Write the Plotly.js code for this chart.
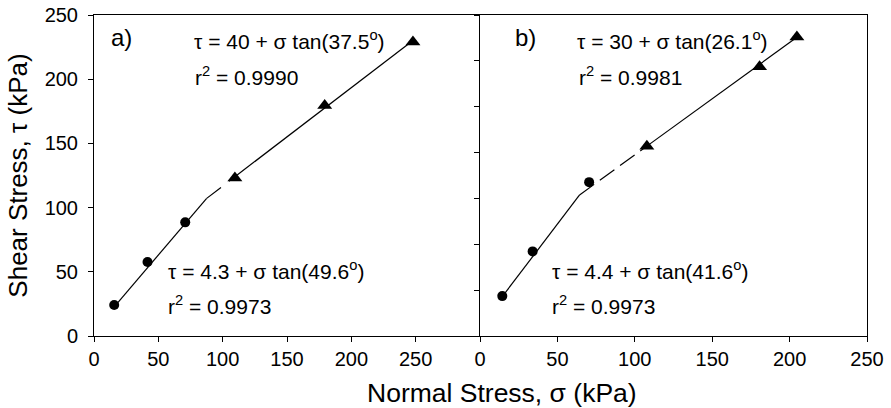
<!DOCTYPE html>
<html>
<head>
<meta charset="utf-8">
<script src="https://cdn.plot.ly/plotly-3.0.1.min.js"></script>
<style>html,body{margin:0;padding:0;background:#fff;}#chart{width:891px;height:408px;}</style>
</head>
<body>
<div id="chart"></div>
<script>
// ---- Data ----
// Panel a)
const circlesA_x = [15.7, 41.6, 70.9];
const circlesA_y = [24.1, 57.6, 88.5];
const trianglesA_x = [109.5, 179.3, 247.9];
const trianglesA_y = [123.0, 179.5, 229.0];
const fitLowA = {c: 4.3, phi: 49.6};
const fitHighA = {c: 40, phi: 37.5};
// Panel b)
const circlesB_x = [14.4, 34.0, 70.5];
const circlesB_y = [17.4, 36.9, 67.1];
const trianglesB_x = [107.8, 180.6, 204.7];
const trianglesB_y = [82.8, 117.4, 130.4];
const fitLowB = {c: 4.4, phi: 41.6};
const fitHighB = {c: 30, phi: 26.1};
// Tick labels
const xTicks = [0, 50, 100, 150, 200, 250];
const yTicksA = [0, 50, 100, 150, 200, 250];
const yTicksB = [0, 20, 40, 60, 80, 100, 120, 140];
// Texts
const eqHighA = "τ = 40 + σ tan(37.5<sup>o</sup>)";
const r2HighA = "r<sup>2</sup> = 0.9990";
const eqLowA = "τ = 4.3 + σ tan(49.6<sup>o</sup>)";
const r2LowA = "r<sup>2</sup> = 0.9973";
const eqHighB = "τ = 30 + σ tan(26.1<sup>o</sup>)";
const r2HighB = "r<sup>2</sup> = 0.9981";
const eqLowB = "τ = 4.4 + σ tan(41.6<sup>o</sup>)";
const r2LowB = "r<sup>2</sup> = 0.9973";

// ---- Helpers ----
const rad = d => d * Math.PI / 180;
const fitY = (f, x) => f.c + x * Math.tan(rad(f.phi));
function segments(lo, hi, cx, tx, xa, ya, dashPat) {
  const xi = (hi.c - lo.c) / (Math.tan(rad(lo.phi)) - Math.tan(rad(hi.phi)));
  const base = {mode: 'lines', xaxis: xa, yaxis: ya, showlegend: false, hoverinfo: 'skip'};
  return [
    Object.assign({}, base, {x: [cx[0], xi], y: [fitY(lo, cx[0]), fitY(lo, xi)], line: {color: '#000', width: 1.2}}),
    Object.assign({}, base, {x: [xi, tx[0]], y: [fitY(hi, xi), fitY(hi, tx[0])], line: {color: '#000', width: 1.2, dash: dashPat}}),
    Object.assign({}, base, {x: [tx[0], tx[tx.length - 1]], y: [fitY(hi, tx[0]), fitY(hi, tx[tx.length - 1])], line: {color: '#000', width: 1.2}})
  ];
}
function pts(x, y, sym, size, xa, ya) {
  return {x: x, y: y, mode: 'markers', xaxis: xa, yaxis: ya, showlegend: false,
          marker: {symbol: sym, size: size, color: '#000'}};
}

const traces = [].concat(
  segments(fitLowA, fitHighA, circlesA_x, trianglesA_x, 'x', 'y', '18px,10px'),
  segments(fitLowB, fitHighB, circlesB_x, trianglesB_x, 'x2', 'y2', '18px,7px'),
  [pts(circlesA_x, circlesA_y, 'circle', 10, 'x', 'y'),
   pts(trianglesA_x, trianglesA_y, 'triangle-up', 13, 'x', 'y'),
   pts(circlesB_x, circlesB_y, 'circle', 10, 'x2', 'y2'),
   pts(trianglesB_x, trianglesB_y, 'triangle-up', 13, 'x2', 'y2')]
);

// pixel -> paper conversion for text placement
const L = 94, R = 24, T = 15, B = 72, W = 891, H = 408;
const pw = W - L - R, ph = H - T - B;
const px = v => (v - L) / pw;
const py = v => (H - B - v) / ph;
const split = (480 - L) / pw;

const FONT = 'Liberation Sans, Arial, sans-serif';
function txt(text, x, y, size) {
  return {text: text, xref: 'paper', yref: 'paper', x: px(x), y: py(y), xanchor: 'left', yanchor: 'middle',
          showarrow: false, font: {family: FONT, size: size || 21, color: '#000'}};
}

const axisCommon = {
  showline: true, linecolor: '#000', linewidth: 1, ticks: 'outside', ticklen: 5, tickwidth: 1, tickcolor: '#000',
  showgrid: false, zeroline: false, tickfont: {family: FONT, size: 20, color: '#000'}, fixedrange: true
};

const layout = {
  width: W, height: H,
  margin: {l: L, r: R, t: T, b: B, pad: 0},
  paper_bgcolor: '#fff', plot_bgcolor: '#fff',
  font: {family: FONT, color: '#000'},
  showlegend: false,
  xaxis: Object.assign({}, axisCommon, {domain: [0, split], range: [0, 300], tickmode: 'array', tickvals: xTicks, mirror: true, anchor: 'y'}),
  yaxis: Object.assign({}, axisCommon, {range: [0, 250], tickmode: 'array', tickvals: yTicksA, anchor: 'x', ticklabelstandoff: 6,
    title: {text: 'Shear Stress, τ (kPa)', font: {family: FONT, size: 26, color: '#000'}, standoff: 9}}),
  xaxis2: Object.assign({}, axisCommon, {domain: [split, 1], range: [0, 250], tickmode: 'array', tickvals: xTicks, mirror: true, anchor: 'y2'}),
  yaxis2: Object.assign({}, axisCommon, {range: [0, 140], tickmode: 'array', tickvals: yTicksB, showticklabels: false, mirror: true, anchor: 'x2'}),
  annotations: [
    txt('a)', 109, 37, 24),
    txt(eqHighA, 192, 40),
    txt(r2HighA, 193, 76),
    txt(eqLowA, 166, 270),
    txt(r2LowA, 166, 305),
    txt('b)', 513, 37, 24),
    txt(eqHighB, 575, 40),
    txt(r2HighB, 577, 76),
    txt(eqLowB, 550, 270),
    txt(r2LowB, 550, 305),
    {text: 'Normal Stress, σ (kPa)', xref: 'paper', yref: 'paper', x: px(502), y: py(393), xanchor: 'center', yanchor: 'middle',
     showarrow: false, font: {family: FONT, size: 26.5, color: '#000'}}
  ]
};

Plotly.newPlot('chart', traces, layout, {displayModeBar: false, staticPlot: true});
</script>
</body>
</html>
